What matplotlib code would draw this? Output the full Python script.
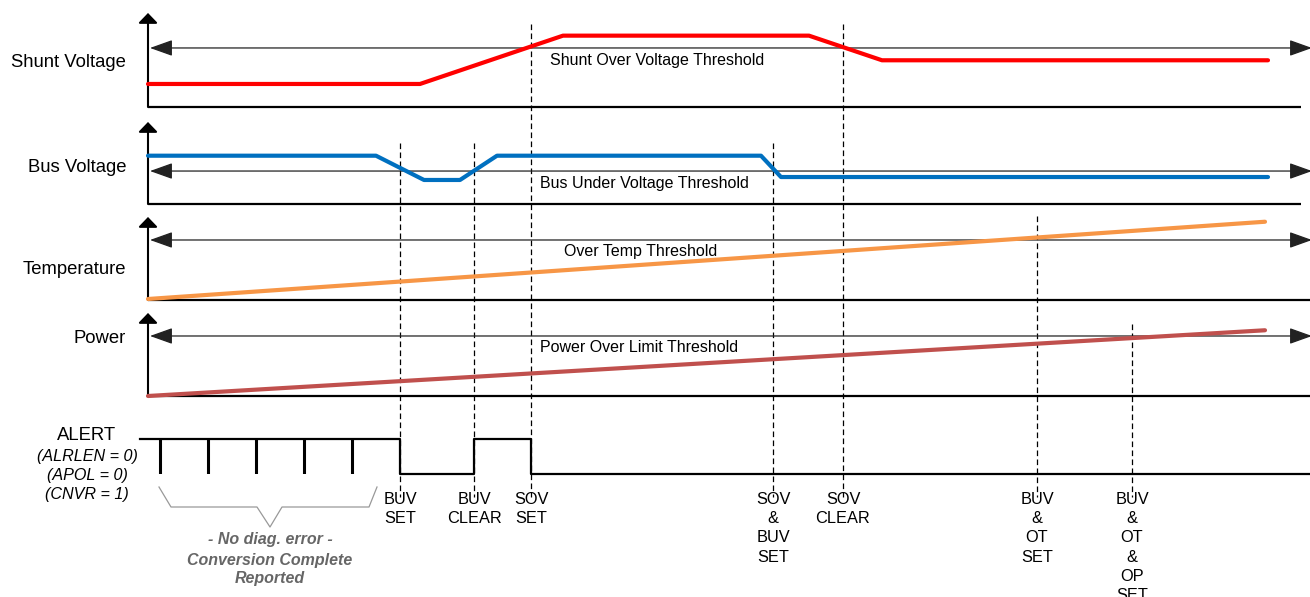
import matplotlib
matplotlib.use('Agg')
import matplotlib.pyplot as plt
from matplotlib.patches import FancyArrowPatch

plt.rcParams['font.family'] = ['Liberation Sans', 'DejaVu Sans']

# time axis (arbitrary units), event instants
event_t = [25.2, 32.6, 38.3, 62.5, 69.5, 88.9, 98.4]
event_labels = ['BUV\nSET', 'BUV\nCLEAR', 'SOV\nSET', 'SOV\n&\nBUV\nSET',
                'SOV\nCLEAR', 'BUV\n&\nOT\nSET', 'BUV\n&\nOT\n&\nOP\nSET']

# signals (0 = panel baseline, 100 = arrow tip)
shunt_t = [0, 27.2, 41.5, 66.1, 73.4, 112]
shunt_v = [24.5, 24.5, 75.9, 75.9, 49.7, 49.7]
shunt_thr = 62.8

bus_t = [0, 22.8, 27.6, 31.2, 34.9, 61.3, 63.3, 112]
bus_v = [58.9, 58.9, 29.3, 29.3, 58.9, 58.9, 32.9, 32.9]
bus_thr = 40.2

temp_t = [0, 111.7]
temp_v = [1.2, 94.3]
temp_thr = 72.3

power_t = [0, 111.7]
power_v = [0, 79.2]
power_thr = 72.3

# ALERT pin
alert_t = [-0.8, 25.2, 32.6, 38.3, 116.2]
alert_v = [1, 0, 1, 0, 0]
pulse_t = [1.2, 6.0, 10.8, 15.6, 20.4]

W, H = 1310, 597
XLIM = (-14.8, 116.2)
fig = plt.figure(figsize=(W / 100, H / 100), dpi=100)


def fy(y):
    return 1 - y / H


def put(x, y, s, size, **kw):
    # y is the vertical middle of capital letters, in pixels from the top
    px = size * 100 / 72
    fig.text(x / W, fy(y + 0.36 * px), s, fontsize=size, va='baseline', **kw)


def panel(bottom, top, t, v, thr, color, name, name_y, thr_text, thr_x, thr_y, right):
    ax = fig.add_axes([0, fy(bottom), 1, (bottom - top) / H])
    ax.set_xlim(*XLIM)
    ax.set_ylim(0, 100)
    ax.axis('off')
    ax.add_patch(FancyArrowPatch((0, 0), (0, 100), arrowstyle='-|>,head_length=6,head_width=5.8',
                                 mutation_scale=1, lw=1.5, color='black',
                                 shrinkA=0, shrinkB=0, clip_on=False))
    ax.plot([0, right], [0, 0], color='black', lw=1.6, clip_on=False, solid_capstyle='butt')
    ax.add_patch(FancyArrowPatch((0.2, thr), (116.4, thr), arrowstyle='<|-|>,head_length=14,head_width=5',
                                 mutation_scale=1, lw=0.9, color='#222222',
                                 shrinkA=0, shrinkB=0, clip_on=False))
    ax.plot(t, v, color=color, lw=3, clip_on=False, solid_capstyle='round', zorder=5)
    put(126, name_y, name, 13.3, ha='right')
    put(thr_x, thr_y, thr_text, 11.5, ha='center')
    return ax


# dashed event markers, behind the panels
ov = fig.add_axes([0, 0, 1, 1])
ov.set_xlim(*XLIM)
ov.set_ylim(H, 0)
ov.axis('off')
tops = [143, 143, 24, 143, 24, 216, 324]
for t, top, lab in zip(event_t, tops, event_labels):
    ov.vlines(t, top, 497, colors='black', lw=0.9, linestyles=(0, (4.5, 2.7)))
    for k, line in enumerate(lab.split('\n')):
        put(148 + 10 * t, 498 + 19.2 * k, line, 11.8, ha='center')

panel(107, 13, shunt_t, shunt_v, shunt_thr, '#ff0000', 'Shunt Voltage', 60,
      'Shunt Over Voltage Threshold', 657, 59, 115.3)
panel(204, 122, bus_t, bus_v, bus_thr, '#0070c0', 'Bus Voltage', 165,
      'Bus Under Voltage Threshold', 644, 182, 115.3)
panel(300, 217, temp_t, temp_v, temp_thr, '#f79646', 'Temperature', 267,
      'Over Temp Threshold', 641, 250, 116.2)
panel(396, 313, power_t, power_v, power_thr, '#c0504d', 'Power', 336,
      'Power Over Limit Threshold', 639, 346, 116.2)

# ALERT waveform
axa = fig.add_axes([0, fy(474.3), 1, (474.3 - 438.7) / H])
axa.set_xlim(*XLIM)
axa.set_ylim(0, 1)
axa.axis('off')
axa.step(alert_t, alert_v, where='post', color='black', lw=1.6, clip_on=False)
axa.vlines(pulse_t, 0, 1, colors='black', lw=2.2)

put(87, 433, 'ALERT', 13.3, ha='center')
for k, line in enumerate(['(ALRLEN = 0)', '(APOL = 0)', '(CNVR = 1)']):
    put(87, 455 + 19 * k, line, 11.6, ha='center', style='italic')

# brace under the conversion pulses
ov.plot([(x - 148) / 10 for x in [159, 171, 257, 270, 282, 369, 377]],
        [487, 507, 507, 527, 507, 507, 487], color='#999999', lw=0.9)
for y, line in zip([538.5, 559, 577.3], ['- No diag. error -', 'Conversion Complete', 'Reported']):
    put(270, y, line, 11.5, ha='center', style='italic', weight='bold', color='#666666')

fig.savefig('out.png', dpi=100)
